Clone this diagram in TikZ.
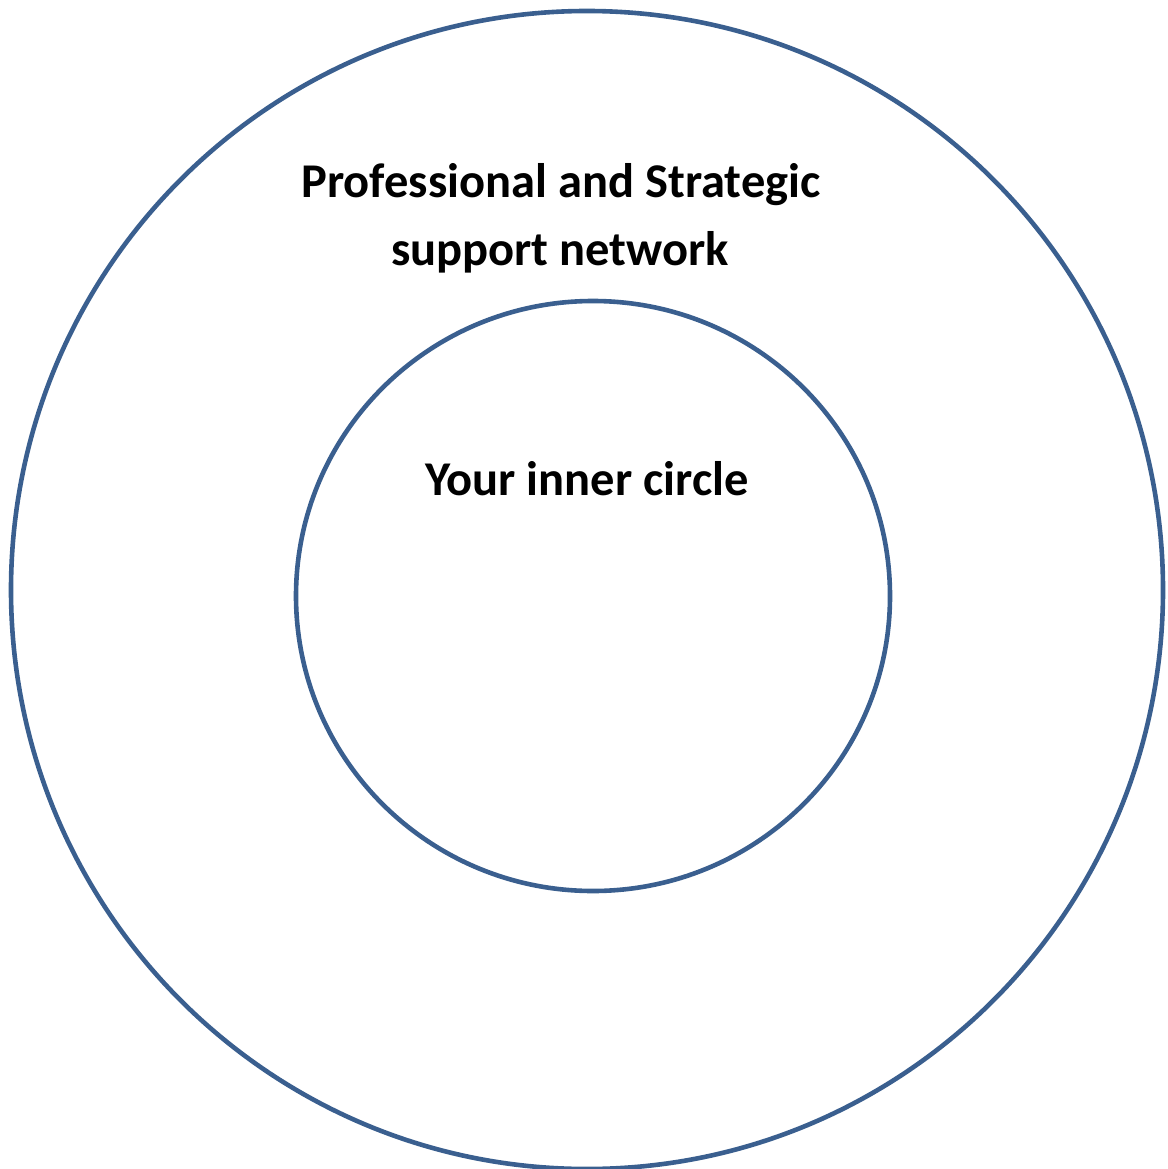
\documentclass[tikz,border=0pt]{standalone}
\usepackage{fontspec}
\setmainfont{Carlito}
\definecolor{ringblue}{HTML}{3A5F8F}
\begin{document}
\begin{tikzpicture}[x=1pt,y=-1pt,
  ring/.style={draw=ringblue,line width=4.6pt},
  lbl/.style={font=\fontsize{48.5}{68}\selectfont\bfseries,text=black,inner sep=0pt,anchor=base}]
\useasboundingbox (0,0) rectangle (1167,1169);
\draw[ring] (587,590) ellipse [x radius=576, y radius=579];
\draw[ring] (593,596) ellipse [x radius=297, y radius=295];
\node[lbl] (outerA) at (561,197) {Professional and Strategic};
\node[lbl] (outerB) at (560,265) {support network};
\node[lbl] (inner) at (587,495) {Your inner circle};
\end{tikzpicture}
\end{document}
